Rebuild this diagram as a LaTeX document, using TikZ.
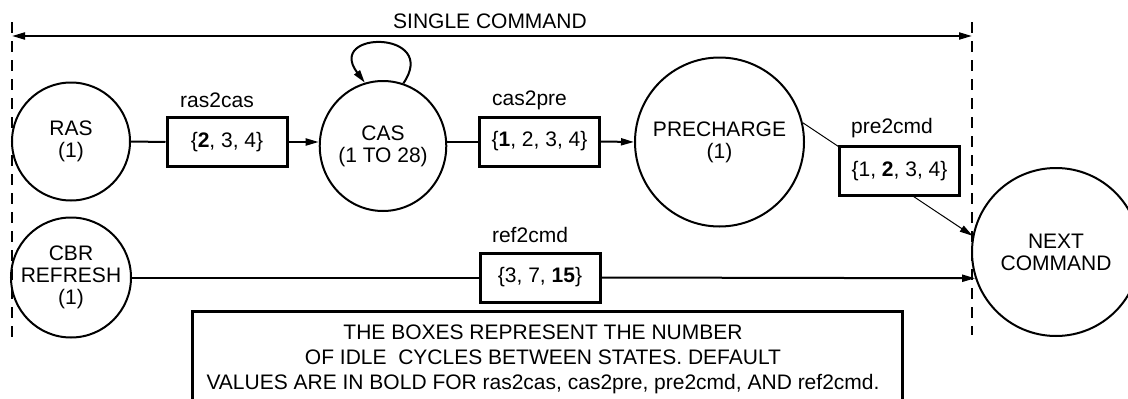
\documentclass[tikz,border=0pt]{standalone}
\usepackage{fontspec}
\setmainfont{Liberation Sans}
\usetikzlibrary{arrows.meta,shapes.geometric}
\begin{document}
\begin{tikzpicture}[x=1pt,y=-1pt,
  txt/.style={font=\fontsize{21}{22}\selectfont, align=center, inner sep=0pt},
  state/.style={txt, circle, draw, line width=2pt},
  idle/.style={txt, rectangle, draw, line width=3pt, fill=white, minimum width=120pt, minimum height=49pt},
  lab/.style={txt},
  conn/.style={line width=2pt},
  thinconn/.style={line width=1pt},
  tip/.style={-{Triangle[length=13pt,width=7pt]}},
  bound/.style={line width=2pt, dash pattern=on 11pt off 8pt},
]
\useasboundingbox (0,0) rectangle (1128,399);

% dashed limits of a single command
\coordinate (lt) at (12,22);
\coordinate (lb) at (12,342);
\coordinate (rt) at (972,22);
\coordinate (rb) at (972,335);
\draw[bound] (lt) -- (lb);
\draw[bound] (rt) -- (rb);
\coordinate (al) at (12,36);
\coordinate (ar) at (972,36);
\draw[conn, {Triangle[length=13pt,width=7pt]}-{Triangle[length=13pt,width=7pt]}] (al) -- (ar);
\node[lab] (single) at (490,21) {SINGLE COMMAND};

% states
\node[state, minimum size=118pt] (ras) at (71,141.5) {RAS\\(1)};
\node[state, ellipse, minimum width=122pt, minimum height=130pt] (cas) at (383,146) {CAS\\(1 TO 28)};
\node[state, minimum size=169pt] (pre) at (719.5,142) {PRECHARGE\\(1)};
\node[state, minimum size=168pt] (next) at (1056,252) {NEXT\\COMMAND};
\node[state, minimum size=120pt] (cbr) at (71,277.5) {CBR\\REFRESH\\(1)};

% idle-cycle boxes
\node[idle] (b1) at (227,142) {\{\textbf{2}, 3, 4\}};
\node[idle] (b2) at (539.5,141.5) {\{\textbf{1}, 2, 3, 4\}};
\draw[thinconn, tip] (pre.13) -- (next.169);
\node[idle] (b3) at (899.5,171) {\{1, \textbf{2}, 3, 4\}};
\node[idle] (b4) at (540,277.5) {\{3, 7, \textbf{15}\}};

% labels
\node[lab] (l1) at (217,100) {ras2cas};
\node[lab] (l2) at (529.5,100) {cas2pre};
\node[lab] (l3) at (892,128) {pre2cmd};
\node[lab] (l4) at (530,235) {ref2cmd};

% connectors
\draw[conn] (ras.east) -- (b1.west);
\draw[conn, tip] (b1.east) -- (b1.east -| cas.west);
\draw[conn] (b2.west -| cas.east) -- (b2.west);
\draw[conn, tip] (b2.east) -- (pre.west);
\draw[conn] (cbr.east) -- (b4.west);
\draw[conn, tip] (b4.east) -- (next.198);
\draw[conn, tip] (cas.72) .. controls (440,30) and (325,30) .. (cas.106);

% note
\coordinate (n1) at (192,410);
\coordinate (n2) at (192,311);
\coordinate (n3) at (902,311);
\coordinate (n4) at (902,410);
\draw[line width=3pt] (n1) -- (n2) -- (n3) -- (n4);
\node[txt, font=\fontsize{21}{25}\selectfont] (note) at (543,359.5)
  {THE BOXES REPRESENT THE NUMBER\\OF IDLE\ \ CYCLES BETWEEN STATES. DEFAULT\\VALUES ARE IN BOLD FOR ras2cas, cas2pre, pre2cmd, AND ref2cmd.};
\end{tikzpicture}
\end{document}
